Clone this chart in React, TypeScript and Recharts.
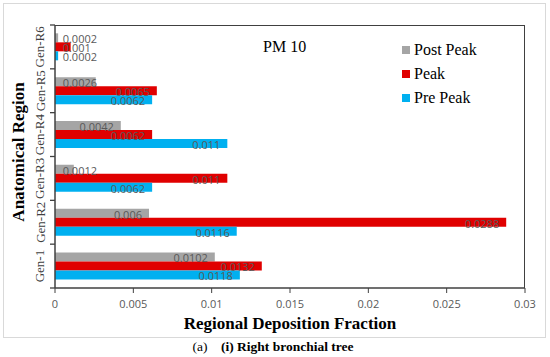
import { BarChart, Bar, XAxis, YAxis, LabelList } from "recharts";

const regions = ["Gen-R6", "Gen-R5", "Gen-R4", "Gen-R3", "Gen-R2", "Gen-1"];
const postPeak = [0.0002, 0.0026, 0.0042, 0.0012, 0.006, 0.0102];
const peak = [0.001, 0.0065, 0.0062, 0.011, 0.0288, 0.0132];
const prePeak = [0.0002, 0.0062, 0.011, 0.0062, 0.0116, 0.0118];
const xTicks = [0, 0.005, 0.01, 0.015, 0.02, 0.025, 0.03];

const data = regions.map((r, i) => ({
  region: r,
  post: postPeak[i],
  peak: peak[i],
  pre: prePeak[i],
}));

const series = [
  { key: "post", name: "Post Peak", color: "#A5A5A5" },
  { key: "peak", name: "Peak", color: "#E00000" },
  { key: "pre", name: "Pre Peak", color: "#00B0F0" },
];

const serif = "'Liberation Serif', 'Times New Roman', serif";
const sans = "'Open Sans', sans-serif";

// plot box
const PLOT_TOP = 25;
const PLOT_BOTTOM = 288;
const band = (PLOT_BOTTOM - PLOT_TOP) / regions.length;

// excel-ish "inside end" label, pushed right when the bar is too short
const BarValue = (props: any) => {
  const { x, y, width, height, value } = props;
  const s = String(value);
  const w = (s.length - 1) * 6.2 + 3;
  const end = Math.max(x + width - 7, x + 8 + w);
  return (
    <text x={end} y={y + height / 2 + 1} textAnchor="end" dominantBaseline="central"
      fontSize={11} fontFamily={sans} fill="#595959">
      {s}
    </text>
  );
};

// category label plus excel style tick marks between categories
const RegionTick = (props: any) => {
  const { x, y, payload, index } = props;
  const ax = x + 15;
  return (
    <g>
      <line x1={ax - 5} x2={ax} y1={y - band / 2} y2={y - band / 2} stroke="#404040" strokeWidth={1.3} />
      {index === regions.length - 1 && (
        <line x1={ax - 5} x2={ax} y1={y + band / 2} y2={y + band / 2} stroke="#404040" strokeWidth={1.3} />
      )}
      <text x={x} y={y} transform={`rotate(-90, ${x}, ${y})`} textAnchor="middle"
        dominantBaseline="central" fontSize={13} fontFamily={serif} fill="#404040">
        {payload.value}
      </text>
    </g>
  );
};

export default function App() {
  return (
    <div style={{ position: "relative", width: 550, height: 357, background: "#fff" }}>
      <style>{`body{margin:0}`}</style>
      <div style={{ position: "absolute", left: 3, top: 3, width: 541, height: 333, border: "1px solid #d9d9d9" }} />
      <BarChart width={550} height={357} data={data} layout="vertical"
        margin={{ top: PLOT_TOP, right: 25, left: 0, bottom: 49 }}
        barCategoryGap="19%" barGap={0}>
        <YAxis dataKey="region" type="category" width={55} tickLine={false} tickSize={0}
          tickMargin={15} tick={<RegionTick />} axisLine={{ stroke: "#404040", strokeWidth: 1.5 }} />
        <XAxis type="number" domain={[0, 0.03]} ticks={xTicks} height={20} tickSize={5}
          tickMargin={7} axisLine={{ stroke: "#404040", strokeWidth: 1.5 }} tickLine={{ stroke: "#404040" }}
          tick={{ fontSize: 11, fontFamily: sans, fill: "#595959" }} />
        {series.map((s) => (
          <Bar key={s.key} dataKey={s.key} name={s.name} fill={s.color} isAnimationActive={false}>
            <LabelList dataKey={s.key} content={<BarValue />} />
          </Bar>
        ))}
      </BarChart>
      <div style={{ position: "absolute", left: 55, top: 25, width: 470, height: 263,
        borderTop: "1.5px solid #404040", borderRight: "1.5px solid #404040", boxSizing: "border-box" }} />
      <div style={{ position: "absolute", left: 402, top: 38 }}>
        {series.map((s) => (
          <div key={s.key} style={{ display: "flex", alignItems: "center", height: 24 }}>
            <span style={{ width: 8, height: 8, background: s.color, marginRight: 4 }} />
            <span style={{ fontFamily: serif, fontSize: 16, color: "#000" }}>{s.name}</span>
          </div>
        ))}
      </div>
      <div style={{ position: "absolute", left: 263, top: 38, fontFamily: serif, fontSize: 16 }}>PM 10</div>
      <div style={{ position: "absolute", left: 19, top: 152, transform: "translate(-50%, -50%) rotate(-90deg)",
        fontFamily: serif, fontSize: 17, fontWeight: "bold", whiteSpace: "nowrap" }}>Anatomical Region</div>
      <div style={{ position: "absolute", left: 290, top: 324, transform: "translate(-50%, -50%)",
        fontFamily: serif, fontSize: 17, fontWeight: "bold", whiteSpace: "nowrap" }}>Regional Deposition Fraction</div>
      <div style={{ position: "absolute", left: 273, top: 347, transform: "translate(-50%, -50%)",
        fontFamily: serif, fontSize: 13.5, whiteSpace: "pre" }}>
        (a)    <b>(i) Right bronchial tree</b>
      </div>
    </div>
  );
}
